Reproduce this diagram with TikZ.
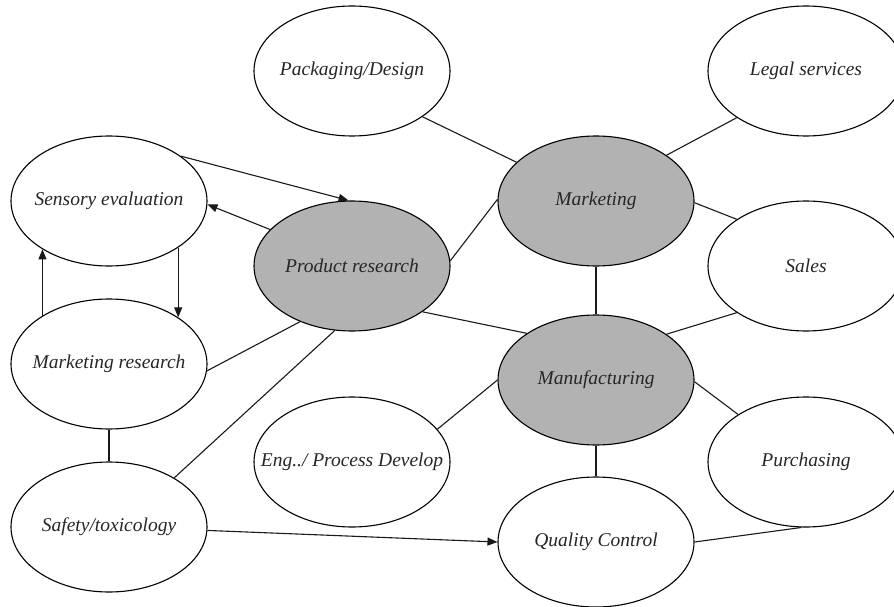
\documentclass[tikz,border=0pt]{standalone}
\usepackage{fontspec}
\setmainfont{Liberation Serif}
\usetikzlibrary{arrows.meta,shapes.geometric}
\definecolor{hub}{RGB}{178,178,178}
\newcommand{\lbl}[1]{\makebox[0pt]{#1}}
\begin{document}
\begin{tikzpicture}[x=1pt,y=-1pt,
  bub/.style={ellipse,draw=black,line width=1.1pt,fill=white,minimum width=196pt,minimum height=130pt,inner sep=0pt,
    font=\fontsize{19.5}{23}\selectfont\itshape,text=black!85},
  hubbub/.style={bub,fill=hub},
  link/.style={line width=1.1pt,draw=black!90},
  arr/.style={link,-{Triangle[length=10pt,width=8pt]}}]
\useasboundingbox (0,0) rectangle (894,607);
\clip (0,0) rectangle (894,607);
\node[bub] (pk) at (352,71) {\lbl{Packaging/Design}};
\node[bub] (lg) at (806,71) {\lbl{Legal services}};
\node[bub] (se) at (109,201) {\lbl{Sensory evaluation}};
\node[hubbub] (pr) at (352,266) {\lbl{Product research}};
\node[hubbub] (mk) at (596,201) {\lbl{Marketing}};
\node[bub] (sa) at (806,266) {\lbl{Sales}};
\node[bub] (mr) at (109,364) {\lbl{Marketing research}};
\node[hubbub] (mf) at (596,380) {\lbl{Manufacturing}};
\node[bub] (en) at (352,462) {\lbl{Eng../ Process Develop}};
\node[bub] (pu) at (806,462) {\lbl{Purchasing}};
\node[bub] (sf) at (109,527) {\lbl{Safety/toxicology}};
\node[bub] (qc) at (596,542) {\lbl{Quality Control}};
% arrows
\draw[arr] (se.32) -- (pr.93);
\draw[arr] (pr.156) -- (se.-2);
\draw[arr] (mr.144) -- (se.216);
\draw[arr] (se.-34.5) -- (mr.34.5);
\draw[arr] (sf.-2) -- (qc.180);
% plain links
\draw[link] (mr.-4) -- (pr.227.6);
\draw[link] (sf.37) -- (pr.255.6);
\draw[link] (mr.270) -- (sf.90);
\draw[link] (pk.-33.3) -- (mk.154.9);
\draw[link] (pr.3) -- (mk.179);
\draw[link] (mk.33.3) -- (lg.214.3);
\draw[link] (mk.-1) -- (sa.146.3);
\draw[link] (mk.270) -- (mf.90);
\draw[link] (pr.-33.7) -- (mf.146.9);
\draw[link] (mf.33.9) -- (sa.214.3);
\draw[link] (en.21.8) -- (mf.180);
\draw[link] (mf.-1) -- (pu.145.7);
\draw[link] (mf.270) -- (qc.90);
\draw[link] (qc.0) -- (pu.266);
\end{tikzpicture}
\end{document}
